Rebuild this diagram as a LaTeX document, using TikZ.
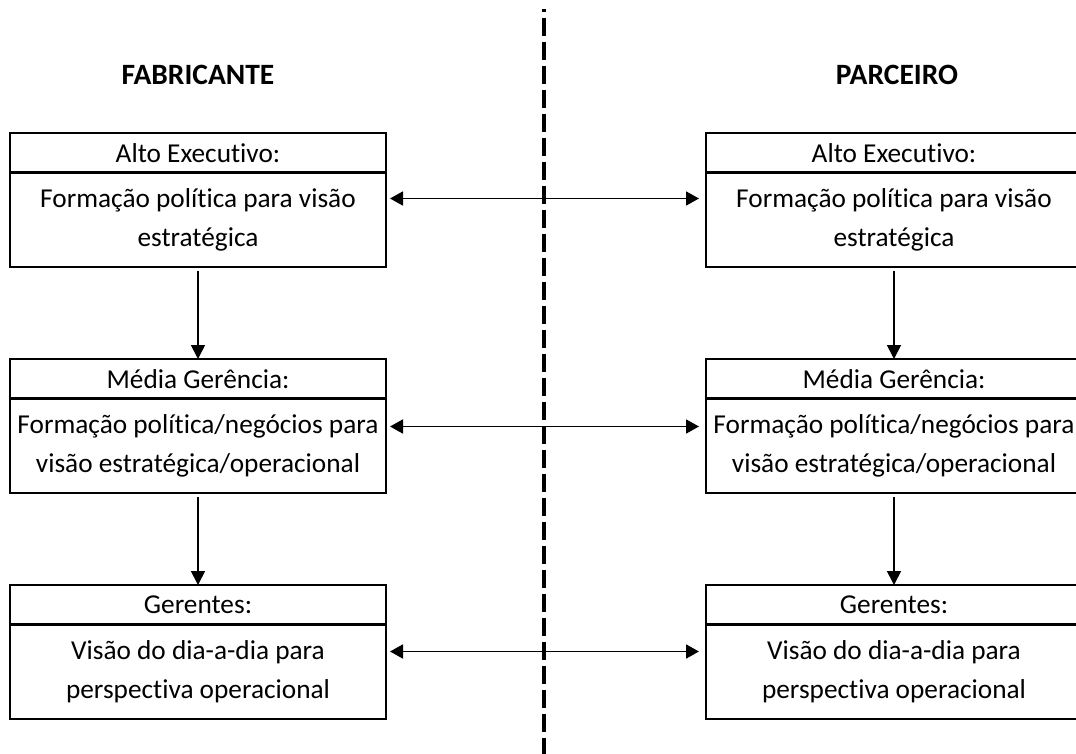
\documentclass[tikz,border=0pt]{standalone}
\usepackage{fontspec}
\setmainfont[Ligatures=NoCommon]{Carlito}
\usetikzlibrary{arrows.meta}

\begin{document}
\begin{tikzpicture}[x=1pt,y=-1pt,
  cell/.style={draw, line width=2.5pt, minimum width=376pt, inner sep=0pt, outer sep=0pt,
    align=center, anchor=north, font=\fontsize{27.3}{39.5}\selectfont},
  head/.style={cell, minimum height=39.5pt},
  body/.style={cell, minimum height=94.5pt},
  title/.style={font=\fontsize{29.5}{32}\selectfont\bfseries},
  down/.style={line width=1.8pt, -{Triangle[length=14pt,width=14pt]}, shorten <=4pt},
  link/.style={line width=1.8pt, {Triangle[length=13pt,width=14pt]}-{Triangle[length=13pt,width=14pt]}},
  divider/.style={line width=3.6pt, dash pattern=on 18pt off 6pt, dash phase=15pt}]

\useasboundingbox (0,0) rectangle (1076,754);
\clip (0,0) rectangle (1076,754);

% column titles
\node[title] (tf) at (198,75) {FABRICANTE};
\node[title] (tp) at (897,75) {PARCEIRO};

% manufacturer side
\node[head] (fh1) at (198,133) {Alto Executivo:};
\node[body] (fb1) at (fh1.south) {Formação política para visão\\estratégica};
\node[head] (fh2) at (198,359) {Média Gerência:};
\node[body] (fb2) at (fh2.south) {Formação política/negócios para\\visão estratégica/operacional};
\node[head] (fh3) at (198,585) {Gerentes:};
\node[body] (fb3) at (fh3.south) {Visão do dia-a-dia para\\perspectiva operacional};

% partner side
\node[head] (ph1) at (894,133) {Alto Executivo:};
\node[body] (pb1) at (ph1.south) {Formação política para visão\\estratégica};
\node[head] (ph2) at (894,359) {Média Gerência:};
\node[body] (pb2) at (ph2.south) {Formação política/negócios para\\visão estratégica/operacional};
\node[head] (ph3) at (894,585) {Gerentes:};
\node[body] (pb3) at (ph3.south) {Visão do dia-a-dia para\\perspectiva operacional};

% hierarchy arrows
\draw[down] (fb1.south) -- (fh2.north);
\draw[down] (fb2.south) -- (fh3.north);
\draw[down] (pb1.south) -- (ph2.north);
\draw[down] (pb2.south) -- (ph3.north);

% exchange between the two organisations
\draw[link] ([shift={(4,26)}]fb1.north east) -- ([shift={(-7,26)}]pb1.north west);
\draw[link] ([shift={(4,28)}]fb2.north east) -- ([shift={(-7,28)}]pb2.north west);
\draw[link] ([shift={(4,27)}]fb3.north east) -- ([shift={(-7,27)}]pb3.north west);

% dividing line
\coordinate (divtop) at (544,9);
\coordinate (divbot) at (544,760);
\draw[divider] (divtop) -- (divbot);
\end{tikzpicture}
\end{document}
